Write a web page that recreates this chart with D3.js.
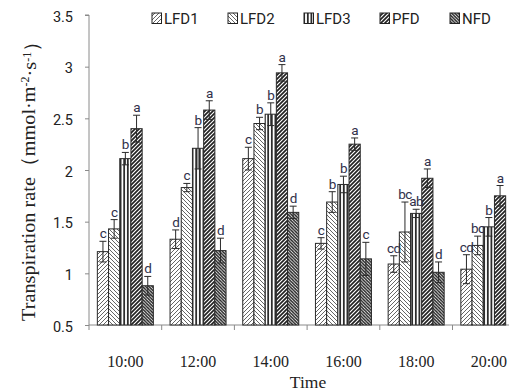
<!DOCTYPE html>
<html><head><meta charset="utf-8">
<script src="https://cdn.jsdelivr.net/npm/d3@7"></script>
<style>
html,body{margin:0;padding:0;background:#fff;}
svg{display:block;}
</style></head>
<body>
<svg id="chart" width="509" height="392"></svg>
<script>
const times = ["10:00","12:00","14:00","16:00","18:00","20:00"];
const seriesNames = ["LFD1","LFD2","LFD3","PFD","NFD"];
const LFD1 = [1.21,1.33,2.11,1.29,1.09,1.04];
const LFD2 = [1.43,1.83,2.45,1.69,1.40,1.27];
const LFD3 = [2.11,2.21,2.54,1.86,1.58,1.45];
const PFD  = [2.40,2.58,2.94,2.25,1.92,1.75];
const NFD  = [0.88,1.22,1.59,1.14,1.01,null];
const LFD1_err = [0.10,0.09,0.11,0.055,0.08,0.14];
const LFD2_err = [0.09,0.04,0.06,0.10,0.29,0.09];
const LFD3_err = [0.06,0.20,0.11,0.08,0.04,0.09];
const PFD_err  = [0.13,0.09,0.08,0.06,0.09,0.10];
const NFD_err  = [0.09,0.12,0.06,0.16,0.10,null];
const LFD1_sig = ["c","d","c","c","cd","cd"];
const LFD2_sig = ["c","c","b","b","bc","bc"];
const LFD3_sig = ["b","b","b","b","ab","b"];
const PFD_sig  = ["a","a","a","a","a","a"];
const NFD_sig  = ["d","d","d","c","d",null];
const yTicks = [0.5,1,1.5,2,2.5,3,3.5];
const yTickLabels = ["0.5","1","1.5","2","2.5","3","3.5"];

(function(){
const values = [LFD1,LFD2,LFD3,PFD,NFD];
const errs = [LFD1_err,LFD2_err,LFD3_err,PFD_err,NFD_err];
const sigs = [LFD1_sig,LFD2_sig,LFD3_sig,PFD_sig,NFD_sig];

const svg = d3.select("#chart");
const plotLeft = 89, bandW = 72.7, plotTop = 15, plotBottom = 325;

const defs = svg.append("defs");
function hatch(id, size, dir, color, width, bg){
  const p = defs.append("pattern").attr("id", id).attr("patternUnits","userSpaceOnUse")
    .attr("width", size).attr("height", size);
  p.append("rect").attr("width", size).attr("height", size).attr("fill", bg);
  let d;
  if(dir === "up") d = `M${-size},${size} L${size},${-size} M0,${2*size} L${2*size},0 M0,${size} L${size},0`;
  else if(dir === "down") d = `M0,0 L${size},${size} M${-size},0 L${size},${2*size} M0,${-size} L${2*size},${size}`;
  else d = `M${size/2},0 L${size/2},${size}`;
  p.append("path").attr("d", d).attr("stroke", color).attr("stroke-width", width);
}
hatch("pLFD1", 4, "up", "#555", 0.9, "#fff");
hatch("pLFD2", 4, "down", "#555", 0.9, "#fff");
hatch("pLFD3", 3.6, "vert", "#111", 1.6, "#fff");
hatch("pPFD", 4, "up", "#222", 1.7, "#fff");
hatch("pNFD", 3.2, "down", "#222", 1.5, "#fff");
const fills = {LFD1:"url(#pLFD1)",LFD2:"url(#pLFD2)",LFD3:"url(#pLFD3)",PFD:"url(#pPFD)",NFD:"url(#pNFD)"};

const x0 = d3.scaleBand().domain(times).range([plotLeft, plotLeft + bandW*times.length]).padding(0);
const x1 = d3.scaleBand().domain(seriesNames).range([0, x0.bandwidth()]).paddingInner(0).paddingOuter(0.745);
const y = d3.scaleLinear().domain([0.5,3.5]).range([plotBottom, plotTop]);

// y axis
const yAxis = d3.axisLeft(y).tickValues(yTicks).tickSize(4).tickPadding(12)
  .tickFormat((d,i)=>yTickLabels[i]);
const gy = svg.append("g").attr("transform",`translate(${plotLeft},0)`).call(yAxis);
gy.select(".domain").attr("stroke","#8a8a8a").attr("d",`M-4,${plotTop}H0V${plotBottom}`);
gy.selectAll(".tick line").attr("stroke","#8a8a8a");
gy.selectAll(".tick text").attr("fill","#222").attr("font-family","Roboto, sans-serif")
  .attr("font-size", 14.5).attr("dy","0.42em");

// x axis
const gx = svg.append("g").attr("transform",`translate(0,${plotBottom})`)
  .call(d3.axisBottom(x0).tickSize(0).tickPadding(31));
gx.select(".domain").attr("stroke","#8a8a8a").attr("d",`M${plotLeft},0H560`);
gx.selectAll(".tick text").attr("fill","#222").attr("font-family","'Liberation Serif', 'Times New Roman', serif")
  .attr("font-size", 16);
const bounds = times.map(t => x0(t)).concat([x0(times[times.length-1]) + x0.bandwidth()]);
svg.append("g").selectAll("line").data(bounds).join("line")
  .attr("x1", d=>d).attr("x2", d=>d).attr("y1", plotBottom).attr("y2", plotBottom+5)
  .attr("stroke","#8a8a8a");

// bars
const items = [];
seriesNames.forEach((s, si) => {
  times.forEach((t, ti) => {
    if (values[si][ti] == null) return;
    items.push({s, t, v: values[si][ti], e: errs[si][ti], sig: sigs[si][ti]});
  });
});
svg.append("g").selectAll("rect.bar").data(items).join("rect").attr("class","bar")
  .attr("x", d => x0(d.t) + x1(d.s)).attr("width", x1.bandwidth())
  .attr("y", d => y(d.v)).attr("height", d => y(0.5) - y(d.v))
  .attr("fill", d => fills[d.s]).attr("stroke","#2a2a2a").attr("stroke-width",1);

// error bars
const eg = svg.append("g").attr("stroke","#2a2a2a").attr("stroke-width",1);
items.forEach(d => {
  const cx = x0(d.t) + x1(d.s) + x1.bandwidth()/2;
  eg.append("line").attr("x1",cx).attr("x2",cx).attr("y1",y(d.v+d.e)).attr("y2",y(d.v-d.e));
  eg.append("line").attr("x1",cx-3.5).attr("x2",cx+3.5).attr("y1",y(d.v+d.e)).attr("y2",y(d.v+d.e));
  eg.append("line").attr("x1",cx-3.5).attr("x2",cx+3.5).attr("y1",y(d.v-d.e)).attr("y2",y(d.v-d.e));
});

// significance letters
svg.append("g").selectAll("text").data(items).join("text")
  .attr("x", d => x0(d.t) + x1(d.s) + x1.bandwidth()/2)
  .attr("y", d => y(d.v + d.e) - 3)
  .attr("text-anchor","middle").attr("font-family","Roboto, sans-serif").attr("font-size",13.5)
  .attr("letter-spacing", -0.6)
  .attr("fill","#30304a").text(d => d.sig);

// legend
const legX = [152, 228, 304, 380, 450];
const lg = svg.append("g");
seriesNames.forEach((s,i) => {
  lg.append("rect").attr("x", legX[i]).attr("y", 13).attr("width", 9.5).attr("height", 10.5)
    .attr("fill", fills[s]).attr("stroke","#222").attr("stroke-width",1);
  lg.append("text").attr("x", legX[i] + 12).attr("y", 24).attr("font-family","Roboto, sans-serif")
    .attr("font-size", 15).attr("fill","#222").text(s);
});

// axis titles
const yt = svg.append("text").attr("transform","translate(35,176) rotate(-90)")
  .attr("text-anchor","middle").attr("font-family","'Liberation Serif', 'Times New Roman', serif")
  .attr("font-size", 19.5).attr("fill","#222")
  .attr("textLength", 290).attr("lengthAdjust","spacingAndGlyphs");
yt.append("tspan").text("Transpiration rate（mmol·m");
yt.append("tspan").attr("font-size",11.5).attr("dy","-0.55em").text("-2");
yt.append("tspan").attr("dy","0.35em").text("·s");
yt.append("tspan").attr("font-size",11.5).attr("dy","-0.35em").text("-1");
yt.append("tspan").attr("dy","0.35em").text("）");

svg.append("text").attr("x", 308).attr("y", 388).attr("text-anchor","middle")
  .attr("font-family","'Liberation Serif', 'Times New Roman', serif").attr("font-size",17.5)
  .attr("fill","#222").text("Time");
})();
</script>
</body></html>
